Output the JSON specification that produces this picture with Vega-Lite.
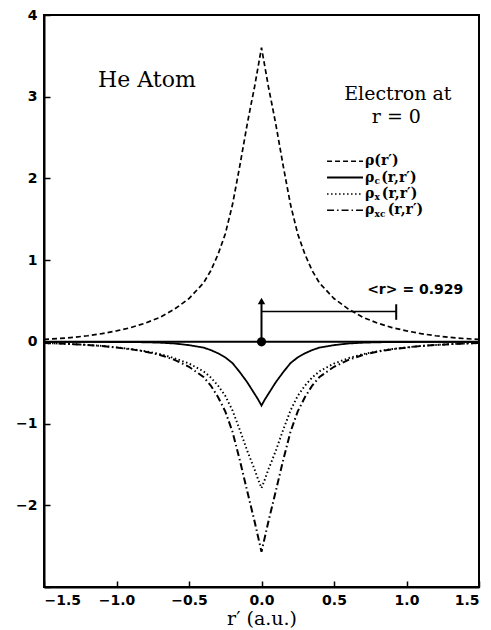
{
  "$schema": "https://vega.github.io/schema/vega-lite/v6.json",
  "width": 435,
  "height": 572,
  "autosize": "none",
  "padding": {"left": 44, "top": 15, "right": 12, "bottom": 43},
  "background": "white",
  "config": {
    "view": {"stroke": "black", "strokeWidth": 2},
    "axis": {
      "grid": false,
      "domainColor": "black",
      "domainWidth": 2,
      "tickColor": "black",
      "tickWidth": 1.5,
      "labelFont": "DejaVu Sans",
      "labelFontWeight": "bold",
      "labelFontSize": 14,
      "labelColor": "black",
      "titleFont": "DejaVu Serif",
      "titleFontWeight": "normal",
      "titleFontSize": 19,
      "titleColor": "black"
    }
  },
  "datasets": {
    "curves": [
      {"r": -1.5, "rho": 0.03, "rhoc": 0, "rhox": -0.015, "rhoxc": -0.015},
      {"r": -1.4, "rho": 0.04, "rhoc": 0, "rhox": -0.02, "rhoxc": -0.02},
      {"r": -1.3, "rho": 0.055, "rhoc": -0.001, "rhox": -0.028, "rhoxc": -0.029},
      {"r": -1.2, "rho": 0.075, "rhoc": -0.001, "rhox": -0.038, "rhoxc": -0.039},
      {"r": -1.1, "rho": 0.1, "rhoc": -0.001, "rhox": -0.05, "rhoxc": -0.051},
      {"r": -1.0, "rho": 0.135, "rhoc": -0.002, "rhox": -0.068, "rhoxc": -0.07},
      {"r": -0.9, "rho": 0.175, "rhoc": -0.003, "rhox": -0.088, "rhoxc": -0.091},
      {"r": -0.8, "rho": 0.23, "rhoc": -0.005, "rhox": -0.115, "rhoxc": -0.12},
      {"r": -0.7, "rho": 0.3, "rhoc": -0.01, "rhox": -0.15, "rhoxc": -0.16},
      {"r": -0.6, "rho": 0.4, "rhoc": -0.02, "rhox": -0.2, "rhoxc": -0.22},
      {"r": -0.5, "rho": 0.53, "rhoc": -0.04, "rhox": -0.265, "rhoxc": -0.305},
      {"r": -0.4, "rho": 0.72, "rhoc": -0.07, "rhox": -0.36, "rhoxc": -0.43},
      {"r": -0.35, "rho": 0.87, "rhoc": -0.1, "rhox": -0.435, "rhoxc": -0.535},
      {"r": -0.3, "rho": 1.07, "rhoc": -0.14, "rhox": -0.535, "rhoxc": -0.675},
      {"r": -0.25, "rho": 1.32, "rhoc": -0.19, "rhox": -0.66, "rhoxc": -0.85},
      {"r": -0.2, "rho": 1.68, "rhoc": -0.26, "rhox": -0.84, "rhoxc": -1.1},
      {"r": -0.15, "rho": 2.15, "rhoc": -0.37, "rhox": -1.075, "rhoxc": -1.445},
      {"r": -0.1, "rho": 2.65, "rhoc": -0.49, "rhox": -1.325, "rhoxc": -1.815},
      {"r": -0.075, "rho": 2.88, "rhoc": -0.56, "rhox": -1.44, "rhoxc": -2.0},
      {"r": -0.05, "rho": 3.1, "rhoc": -0.63, "rhox": -1.55, "rhoxc": -2.18},
      {"r": -0.025, "rho": 3.35, "rhoc": -0.7, "rhox": -1.675, "rhoxc": -2.375},
      {"r": 0, "rho": 3.6, "rhoc": -0.78, "rhox": -1.79, "rhoxc": -2.57},
      {"r": 0.025, "rho": 3.35, "rhoc": -0.7, "rhox": -1.675, "rhoxc": -2.375},
      {"r": 0.05, "rho": 3.1, "rhoc": -0.63, "rhox": -1.55, "rhoxc": -2.18},
      {"r": 0.075, "rho": 2.88, "rhoc": -0.56, "rhox": -1.44, "rhoxc": -2.0},
      {"r": 0.1, "rho": 2.65, "rhoc": -0.49, "rhox": -1.325, "rhoxc": -1.815},
      {"r": 0.15, "rho": 2.15, "rhoc": -0.37, "rhox": -1.075, "rhoxc": -1.445},
      {"r": 0.2, "rho": 1.68, "rhoc": -0.26, "rhox": -0.84, "rhoxc": -1.1},
      {"r": 0.25, "rho": 1.32, "rhoc": -0.19, "rhox": -0.66, "rhoxc": -0.85},
      {"r": 0.3, "rho": 1.07, "rhoc": -0.14, "rhox": -0.535, "rhoxc": -0.675},
      {"r": 0.35, "rho": 0.87, "rhoc": -0.1, "rhox": -0.435, "rhoxc": -0.535},
      {"r": 0.4, "rho": 0.72, "rhoc": -0.07, "rhox": -0.36, "rhoxc": -0.43},
      {"r": 0.5, "rho": 0.53, "rhoc": -0.04, "rhox": -0.265, "rhoxc": -0.305},
      {"r": 0.6, "rho": 0.4, "rhoc": -0.02, "rhox": -0.2, "rhoxc": -0.22},
      {"r": 0.7, "rho": 0.3, "rhoc": -0.01, "rhox": -0.15, "rhoxc": -0.16},
      {"r": 0.8, "rho": 0.23, "rhoc": -0.005, "rhox": -0.115, "rhoxc": -0.12},
      {"r": 0.9, "rho": 0.175, "rhoc": -0.003, "rhox": -0.088, "rhoxc": -0.091},
      {"r": 1.0, "rho": 0.135, "rhoc": -0.002, "rhox": -0.068, "rhoxc": -0.07},
      {"r": 1.1, "rho": 0.1, "rhoc": -0.001, "rhox": -0.05, "rhoxc": -0.051},
      {"r": 1.2, "rho": 0.075, "rhoc": -0.001, "rhox": -0.038, "rhoxc": -0.039},
      {"r": 1.3, "rho": 0.055, "rhoc": -0.001, "rhox": -0.028, "rhoxc": -0.029},
      {"r": 1.4, "rho": 0.04, "rhoc": 0, "rhox": -0.02, "rhoxc": -0.02},
      {"r": 1.5, "rho": 0.03, "rhoc": 0, "rhox": -0.015, "rhoxc": -0.015}
    ]
  },
  "layer": [
    {
      "data": {"name": "curves"},
      "transform": [{"fold": ["rho", "rhoc", "rhox", "rhoxc"], "as": ["series", "value"]}],
      "mark": {"type": "line", "color": "black", "clip": true},
      "encoding": {
        "x": {
          "field": "r", "type": "quantitative",
          "scale": {"domain": [-1.5, 1.5], "nice": false, "zero": false},
          "axis": {
            "title": "r′ (a.u.)",
            "values": [-1.5, -1.25, -1, -0.75, -0.5, -0.25, 0, 0.25, 0.5, 0.75, 1, 1.25, 1.5],
            "format": ".1f",
            "labelExpr": "abs(datum.value % 0.5) < 0.001 ? datum.label : ''",
            "tickSize": {"condition": {"test": "abs(datum.value % 0.5) > 0.001", "value": -3}, "value": -6},
            "labelPadding": 12,
            "titlePadding": 2
          }
        },
        "y": {
          "field": "value", "type": "quantitative",
          "scale": {"domain": [-3, 4], "nice": false, "zero": false},
          "axis": {
            "title": null,
            "values": [-3, -2.5, -2, -1.5, -1, -0.5, 0, 0.5, 1, 1.5, 2, 2.5, 3, 3.5, 4],
            "format": "d",
            "labelExpr": "(abs(datum.value % 1) < 0.001 && datum.value > -3) ? datum.label : ''",
            "tickSize": {"condition": {"test": "abs(datum.value % 1) > 0.001", "value": -3}, "value": -6},
            "labelPadding": 13
          }
        },
        "detail": {"field": "series"},
        "strokeDash": {
          "field": "series", "type": "nominal",
          "scale": {"domain": ["rho", "rhoc", "rhox", "rhoxc"], "range": [[5, 3], [1, 0], [1.5, 2.5], [7, 3, 1.5, 3]]},
          "legend": null
        },
        "strokeWidth": {
          "field": "series", "type": "nominal",
          "scale": {"domain": ["rho", "rhoc", "rhox", "rhoxc"], "range": [1.7, 2, 1.6, 1.7]},
          "legend": null
        }
      }
    },
    {
      "data": {"values": [{}]},
      "mark": {"type": "rule", "color": "black", "strokeWidth": 2},
      "encoding": {"y": {"datum": 0, "type": "quantitative"}}
    },
    {
      "data": {"values": [{}]},
      "mark": {"type": "rule", "color": "black", "strokeWidth": 2},
      "encoding": {"x": {"datum": 0, "type": "quantitative"}, "y": {"datum": 0, "type": "quantitative"}, "y2": {"datum": 0.48}}
    },
    {
      "data": {"values": [{}]},
      "mark": {"type": "point", "shape": "triangle-up", "filled": true, "color": "black", "size": 55, "opacity": 1},
      "encoding": {"x": {"datum": 0, "type": "quantitative"}, "y": {"datum": 0.5, "type": "quantitative"}}
    },
    {
      "data": {"values": [{}]},
      "mark": {"type": "point", "shape": "circle", "filled": true, "color": "black", "size": 85, "opacity": 1},
      "encoding": {"x": {"datum": 0, "type": "quantitative"}, "y": {"datum": 0, "type": "quantitative"}}
    },
    {
      "data": {"values": [{}]},
      "mark": {"type": "rule", "color": "black", "strokeWidth": 1.5},
      "encoding": {"x": {"datum": 0, "type": "quantitative"}, "x2": {"datum": 0.929}, "y": {"datum": 0.37, "type": "quantitative"}}
    },
    {
      "data": {"values": [{}]},
      "mark": {"type": "rule", "color": "black", "strokeWidth": 2},
      "encoding": {"x": {"datum": 0.929, "type": "quantitative"}, "y": {"datum": 0.27, "type": "quantitative"}, "y2": {"datum": 0.46}}
    },
    {
      "data": {"values": [{}]},
      "mark": {"type": "text", "text": "He Atom", "font": "DejaVu Serif", "fontSize": 22, "color": "black", "align": "center", "baseline": "middle"},
      "encoding": {"x": {"datum": -0.79, "type": "quantitative"}, "y": {"datum": 3.2, "type": "quantitative"}}
    },
    {
      "data": {"values": [{}]},
      "mark": {"type": "text", "text": "Electron at", "font": "DejaVu Serif", "fontSize": 19, "color": "black", "align": "center", "baseline": "middle"},
      "encoding": {"x": {"datum": 0.94, "type": "quantitative"}, "y": {"datum": 3.03, "type": "quantitative"}}
    },
    {
      "data": {"values": [{}]},
      "mark": {"type": "text", "text": "r = 0", "font": "DejaVu Serif", "fontSize": 19, "color": "black", "align": "center", "baseline": "middle"},
      "encoding": {"x": {"datum": 0.93, "type": "quantitative"}, "y": {"datum": 2.75, "type": "quantitative"}}
    },
    {
      "data": {"values": [{}]},
      "mark": {"type": "text", "text": "<r> = 0.929", "font": "DejaVu Sans", "fontWeight": "bold", "fontSize": 14, "color": "black", "align": "center", "baseline": "middle"},
      "encoding": {"x": {"datum": 1.06, "type": "quantitative"}, "y": {"datum": 0.64, "type": "quantitative"}}
    },
    {
      "data": {"values": [{}]},
      "mark": {"type": "rule", "color": "black", "strokeWidth": 1.6, "strokeDash": [5, 3]},
      "encoding": {"x": {"datum": 0.452, "type": "quantitative"}, "x2": {"datum": 0.7}, "y": {"datum": 2.21, "type": "quantitative"}}
    },
    {
      "data": {"values": [{}]},
      "mark": {"type": "rule", "color": "black", "strokeWidth": 2},
      "encoding": {"x": {"datum": 0.452, "type": "quantitative"}, "x2": {"datum": 0.7}, "y": {"datum": 2.01, "type": "quantitative"}}
    },
    {
      "data": {"values": [{}]},
      "mark": {"type": "rule", "color": "black", "strokeWidth": 1.6, "strokeDash": [1.5, 2.5]},
      "encoding": {"x": {"datum": 0.452, "type": "quantitative"}, "x2": {"datum": 0.7}, "y": {"datum": 1.81, "type": "quantitative"}}
    },
    {
      "data": {"values": [{}]},
      "mark": {"type": "rule", "color": "black", "strokeWidth": 1.6, "strokeDash": [7, 3, 1.5, 3]},
      "encoding": {"x": {"datum": 0.452, "type": "quantitative"}, "x2": {"datum": 0.7}, "y": {"datum": 1.61, "type": "quantitative"}}
    },
    {
      "data": {"values": [{}]},
      "mark": {"type": "text", "text": "ρ(r′)", "font": "DejaVu Serif", "fontWeight": "bold", "fontSize": 14, "color": "black", "align": "left", "baseline": "middle"},
      "encoding": {"x": {"datum": 0.714, "type": "quantitative"}, "y": {"datum": 2.21, "type": "quantitative"}}
    },
    {
      "data": {"values": [{}]},
      "mark": {"type": "text", "text": "ρ", "font": "DejaVu Serif", "fontWeight": "bold", "fontSize": 14, "color": "black", "align": "left", "baseline": "middle"},
      "encoding": {"x": {"datum": 0.714, "type": "quantitative"}, "y": {"datum": 2.01, "type": "quantitative"}}
    },
    {
      "data": {"values": [{}]},
      "mark": {"type": "text", "text": "c", "font": "DejaVu Serif", "fontWeight": "bold", "fontSize": 9, "color": "black", "align": "left", "baseline": "middle"},
      "encoding": {"x": {"datum": 0.78, "type": "quantitative"}, "y": {"datum": 1.97, "type": "quantitative"}}
    },
    {
      "data": {"values": [{}]},
      "mark": {"type": "text", "text": "(r,r′)", "font": "DejaVu Serif", "fontWeight": "bold", "fontSize": 14, "color": "black", "align": "left", "baseline": "middle"},
      "encoding": {"x": {"datum": 0.825, "type": "quantitative"}, "y": {"datum": 2.01, "type": "quantitative"}}
    },
    {
      "data": {"values": [{}]},
      "mark": {"type": "text", "text": "ρ", "font": "DejaVu Serif", "fontWeight": "bold", "fontSize": 14, "color": "black", "align": "left", "baseline": "middle"},
      "encoding": {"x": {"datum": 0.714, "type": "quantitative"}, "y": {"datum": 1.81, "type": "quantitative"}}
    },
    {
      "data": {"values": [{}]},
      "mark": {"type": "text", "text": "x", "font": "DejaVu Serif", "fontWeight": "bold", "fontSize": 9, "color": "black", "align": "left", "baseline": "middle"},
      "encoding": {"x": {"datum": 0.78, "type": "quantitative"}, "y": {"datum": 1.77, "type": "quantitative"}}
    },
    {
      "data": {"values": [{}]},
      "mark": {"type": "text", "text": "(r,r′)", "font": "DejaVu Serif", "fontWeight": "bold", "fontSize": 14, "color": "black", "align": "left", "baseline": "middle"},
      "encoding": {"x": {"datum": 0.83, "type": "quantitative"}, "y": {"datum": 1.81, "type": "quantitative"}}
    },
    {
      "data": {"values": [{}]},
      "mark": {"type": "text", "text": "ρ", "font": "DejaVu Serif", "fontWeight": "bold", "fontSize": 14, "color": "black", "align": "left", "baseline": "middle"},
      "encoding": {"x": {"datum": 0.714, "type": "quantitative"}, "y": {"datum": 1.61, "type": "quantitative"}}
    },
    {
      "data": {"values": [{}]},
      "mark": {"type": "text", "text": "xc", "font": "DejaVu Serif", "fontWeight": "bold", "fontSize": 9, "color": "black", "align": "left", "baseline": "middle"},
      "encoding": {"x": {"datum": 0.78, "type": "quantitative"}, "y": {"datum": 1.57, "type": "quantitative"}}
    },
    {
      "data": {"values": [{}]},
      "mark": {"type": "text", "text": "(r,r′)", "font": "DejaVu Serif", "fontWeight": "bold", "fontSize": 14, "color": "black", "align": "left", "baseline": "middle"},
      "encoding": {"x": {"datum": 0.87, "type": "quantitative"}, "y": {"datum": 1.61, "type": "quantitative"}}
    }
  ]
}
